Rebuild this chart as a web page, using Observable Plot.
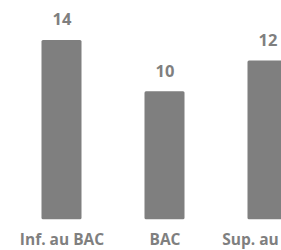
<!DOCTYPE html>
<html>
<head>
<meta charset="utf-8">
<script src="https://cdn.jsdelivr.net/npm/d3@7"></script>
<script src="https://cdn.jsdelivr.net/npm/@observablehq/plot@0.6"></script>
<style>
  html, body { margin: 0; padding: 0; background: #fff; overflow: hidden; }
</style>
</head>
<body>
<div id="chart"></div>
<script>
const categories = ["Inf. au BAC", "BAC", "Sup. au BAC"];
const values = [14, 10, 12.4];
const valueLabels = ["14", "10", "12"];

const data = categories.map((c, i) => ({cat: c, value: values[i], label: valueLabels[i]}));

const gray = "#7f7f7f";

const chart = Plot.plot({
  width: 281,
  height: 250,
  marginTop: 0,
  marginBottom: 30.7,
  marginLeft: 0,
  marginRight: 0,
  style: {overflow: "hidden", background: "#fff", fontFamily: "'Open Sans', sans-serif"},
  x: {domain: categories, range: [9.5, 318.5], padding: 0, label: null},
  y: {domain: [0, 14], range: [219.3, 40], axis: null},
  marks: [
    Plot.barY(data, {x: "cat", y: "value", fill: gray, insetLeft: 31.5, insetRight: 31.5, rx: 1.5}),
    Plot.text(data, {x: "cat", y: "value", text: "label", dy: -20.5, fill: gray, fontSize: 16.5, fontWeight: 700}),
    Plot.axisX({tickSize: 0, tickPadding: 14.5, fontSize: 15.5, fontWeight: 700, fill: gray, label: null})
  ]
});
document.getElementById("chart").appendChild(chart);
</script>
</body>
</html>
